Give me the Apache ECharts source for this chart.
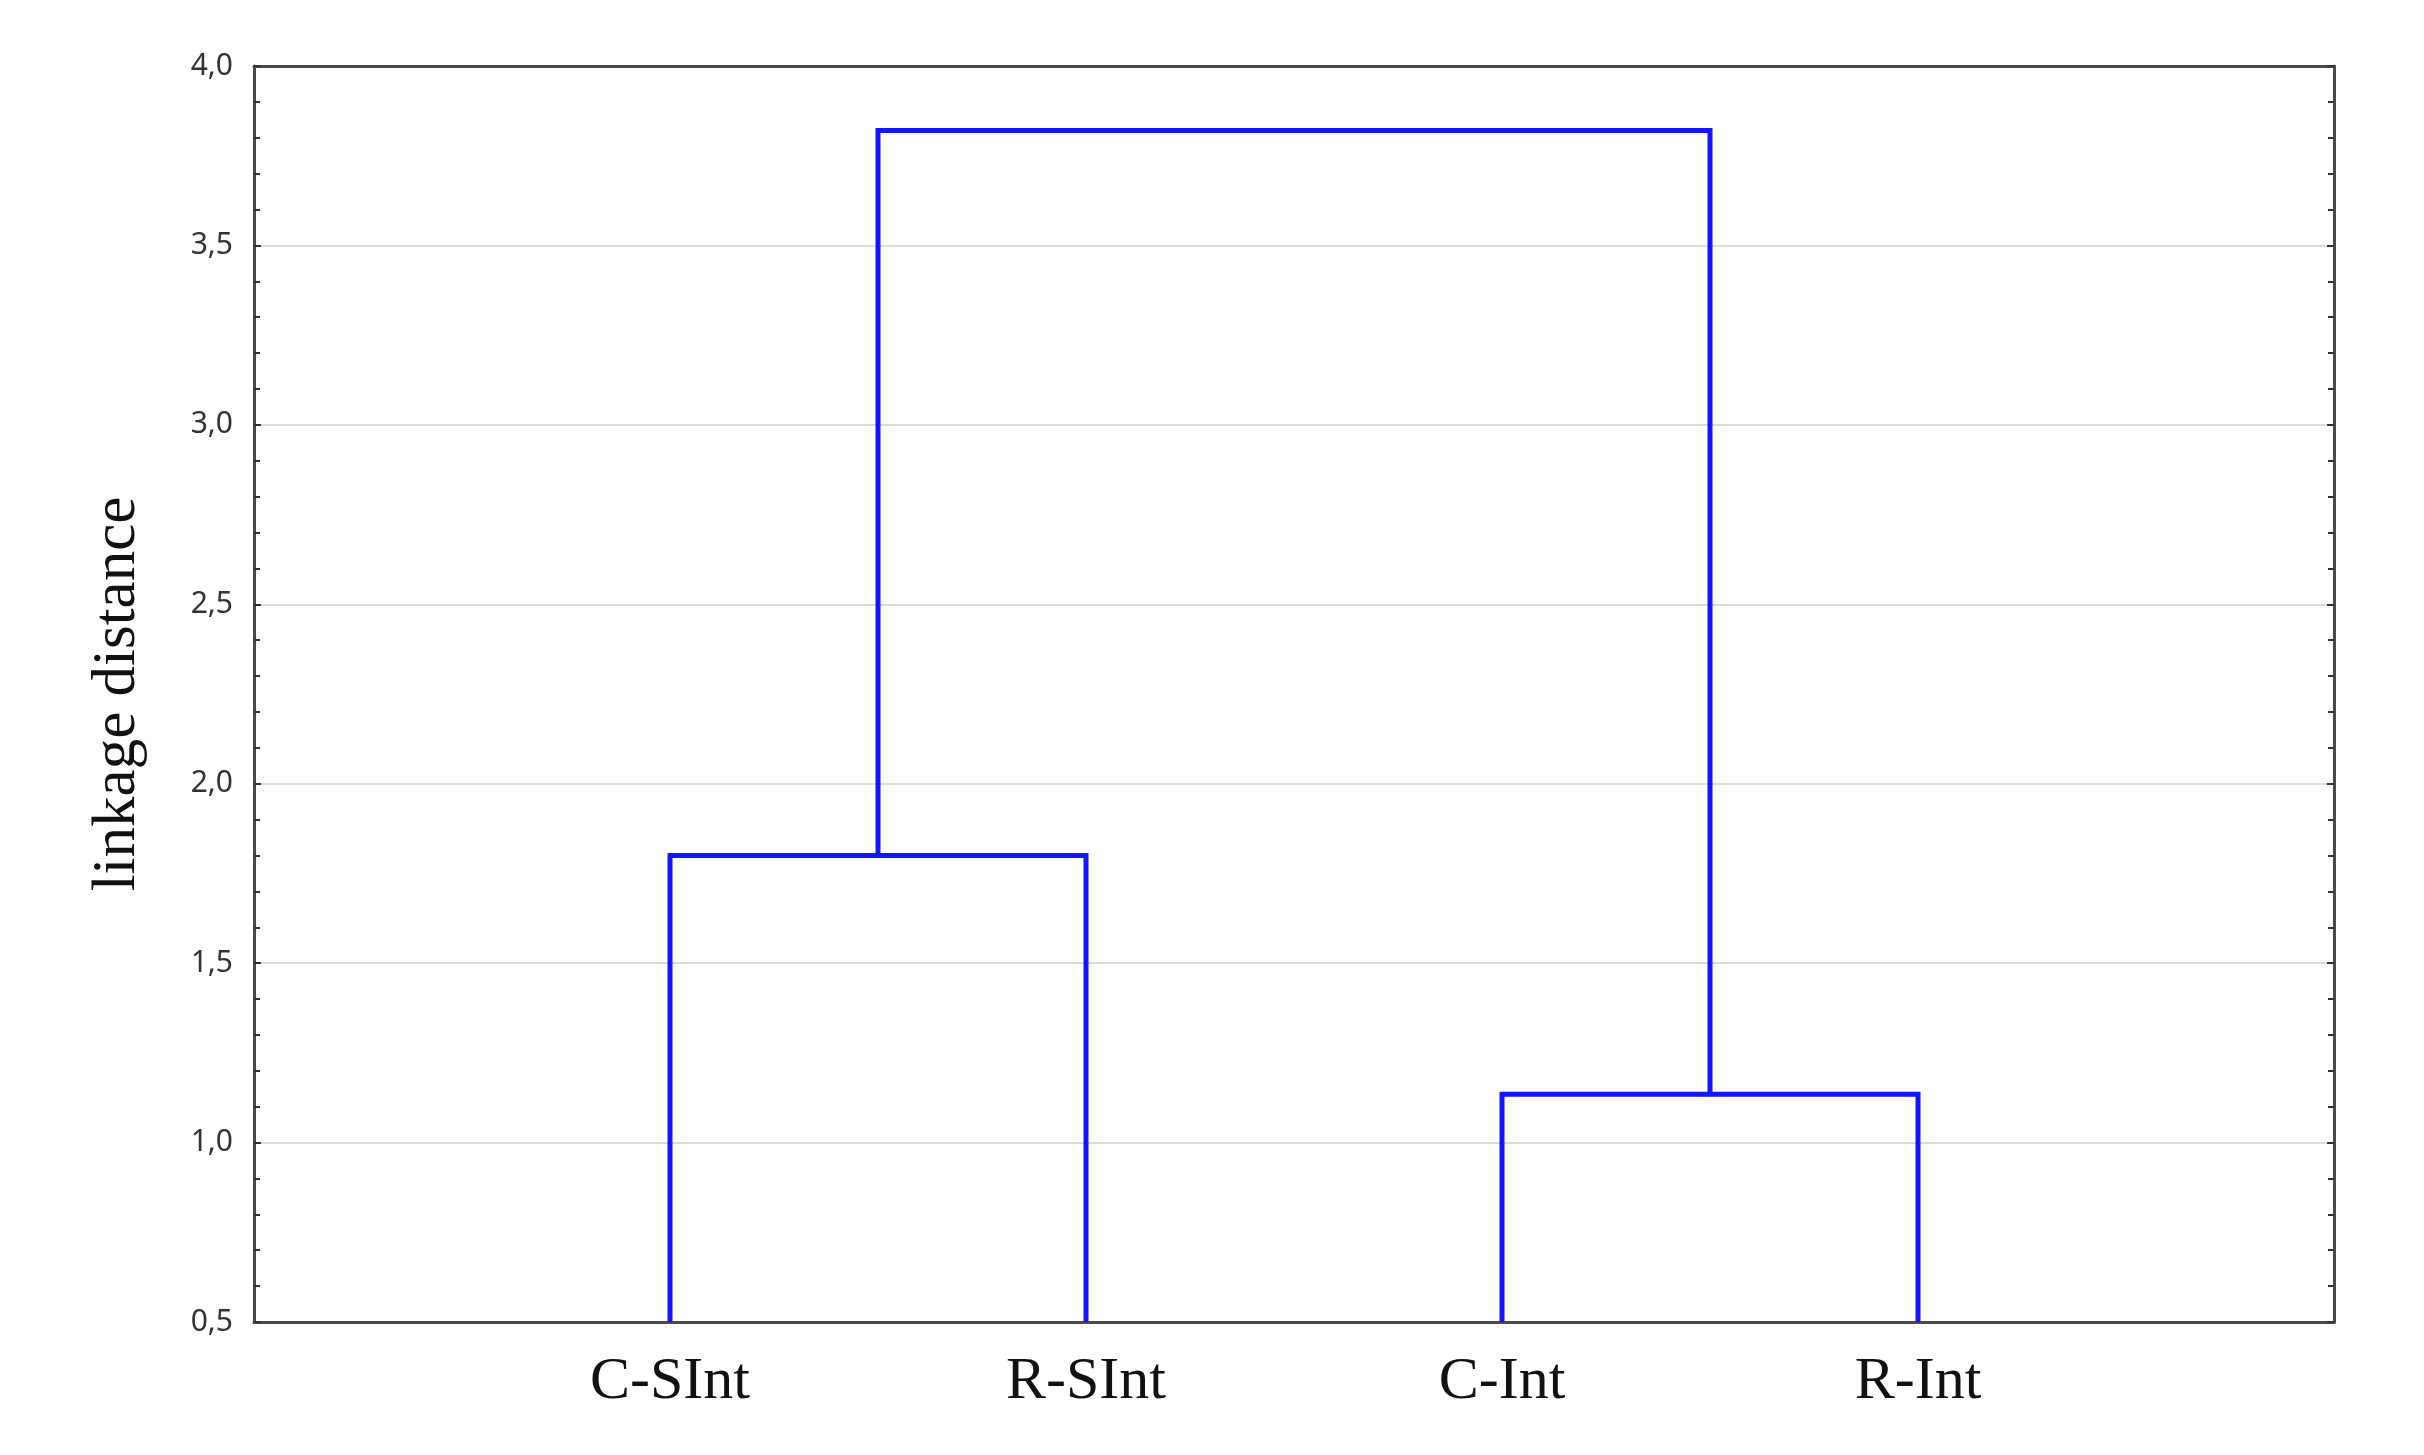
<!DOCTYPE html>
<html>
<head>
<meta charset="utf-8">
<script src="https://cdn.jsdelivr.net/npm/echarts@6/dist/echarts.min.js"></script>
<style>
  html, body { margin: 0; padding: 0; background: #fff; }
  #chart { width: 2424px; height: 1455px; }
</style>
</head>
<body>
<div id="chart"></div>
<script>
// leaves in plotted order, their base level, and merges (scipy style: index >= leaves.length is a cluster)
const leaves = ['C-SInt', 'R-SInt', 'C-Int', 'R-Int']
const leafLevel = 0.5
const merges = [[0, 1], [2, 3], [4, 5]]
const mergeHeights = [1.80, 1.135, 3.82]
const yTicks = [0.5, 1.0, 1.5, 2.0, 2.5, 3.0, 3.5, 4.0]

const fmtComma = (v) => v.toFixed(1).replace('.', ',')

// position and height of every node, leaves first
const nodeX = leaves.map((_, i) => i + 1)
const nodeY = leaves.map(() => leafLevel)
const linkSeries = merges.map(([a, b], i) => {
  nodeX.push((nodeX[a] + nodeX[b]) / 2)
  nodeY.push(mergeHeights[i])
  return {
    type: 'line',
    symbol: 'none',
    animation: false,
    silent: true,
    z: 4,
    lineStyle: { color: '#1414ff', width: 5, join: 'miter' },
    data: [
      [nodeX[a], nodeY[a]],
      [nodeX[a], mergeHeights[i]],
      [nodeX[b], mergeHeights[i]],
      [nodeX[b], nodeY[b]]
    ]
  }
})

const chart = echarts.init(document.getElementById('chart'))

const frameLine = { show: true, onZero: false, lineStyle: { color: '#4a4a4a', width: 3 } }

const yCommon = {
  type: 'value',
  min: yTicks[0],
  max: yTicks[yTicks.length - 1],
  interval: 0.5,
  z: 3,
  axisLine: frameLine,
  axisTick: { show: true, inside: true, length: 7, lineStyle: { color: '#333', width: 2 } },
  minorTick: { show: true, splitNumber: 5, length: 6, lineStyle: { color: '#333', width: 2 } }
}

chart.setOption({
  backgroundColor: '#fff',
  grid: { left: 254, right: 90, top: 66, bottom: 133 },
  xAxis: [
    {
      type: 'value',
      position: 'bottom',
      min: 0,
      max: leaves.length + 1,
      interval: 1,
      z: 3,
      axisLine: frameLine,
      axisTick: { show: false },
      splitLine: { show: false },
      axisLabel: {
        margin: 30,
        fontFamily: 'Liberation Serif',
        fontSize: 60,
        color: '#111',
        formatter: (v) => leaves[v - 1] || ''
      }
    },
    {
      type: 'value',
      position: 'top',
      min: 0,
      max: leaves.length + 1,
      z: 3,
      axisLine: frameLine,
      axisTick: { show: false },
      splitLine: { show: false },
      axisLabel: { show: false }
    }
  ],
  yAxis: [
    Object.assign({}, yCommon, {
      position: 'left',
      name: 'linkage distance',
      nameLocation: 'middle',
      nameGap: 106,
      nameTextStyle: { fontFamily: 'Liberation Serif', fontSize: 61, color: '#111' },
      splitLine: { show: true, lineStyle: { color: '#dcdcdc', width: 2 } },
      axisLabel: {
        margin: 21,
        fontFamily: 'Noto Sans',
        fontSize: 30,
        color: '#333',
        formatter: fmtComma
      }
    }),
    Object.assign({}, yCommon, {
      position: 'right',
      splitLine: { show: false },
      axisLabel: { show: false }
    })
  ],
  series: linkSeries
})
</script>
</body>
</html>
